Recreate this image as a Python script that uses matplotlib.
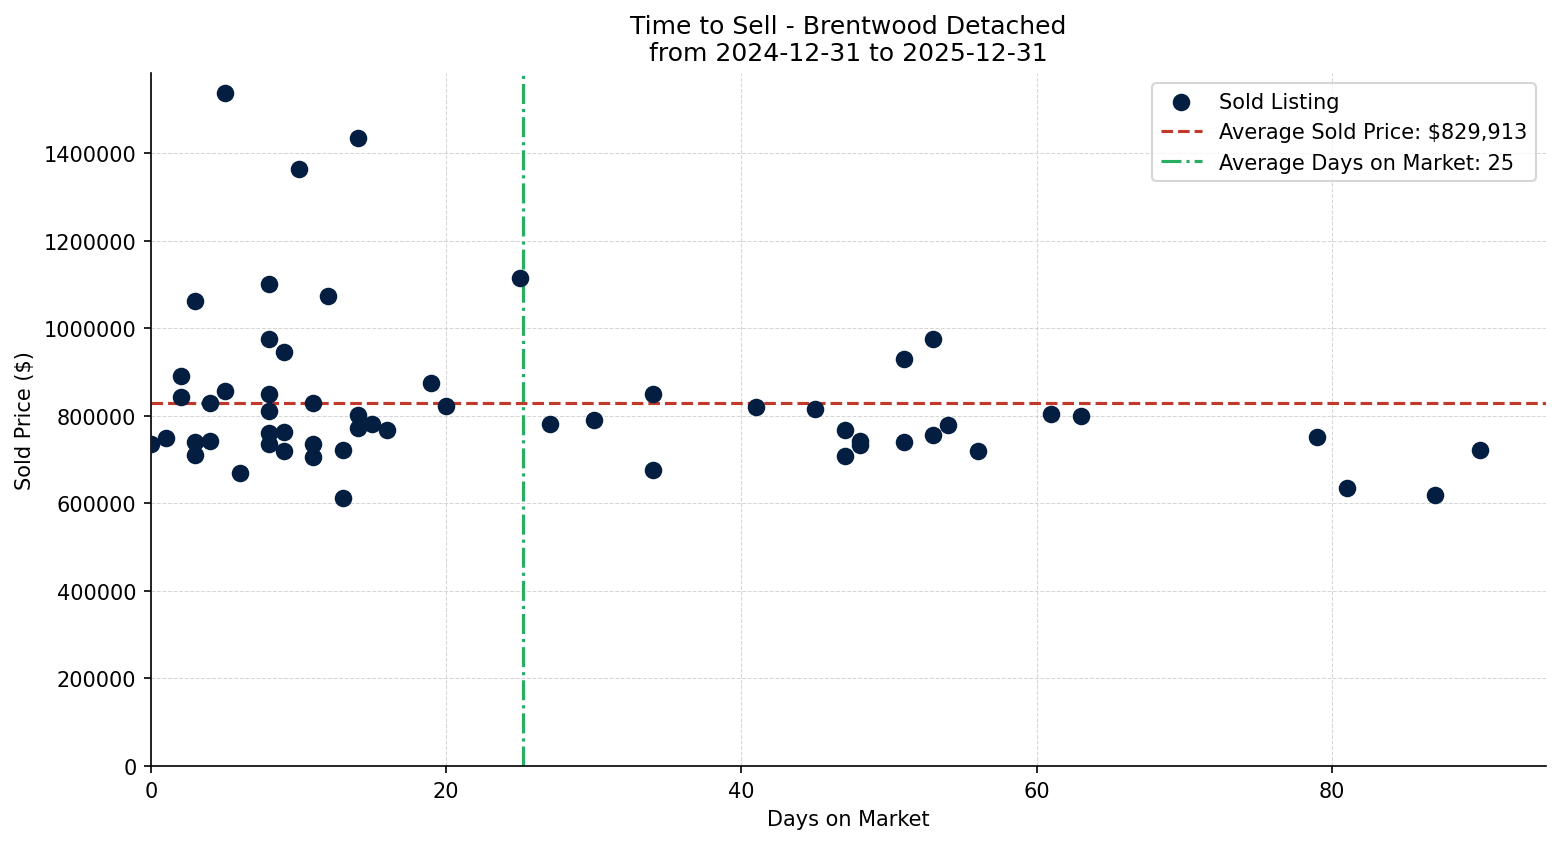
import matplotlib
matplotlib.use("Agg")
import matplotlib.pyplot as plt

days = [0, 1, 2, 2, 3, 3, 3, 4, 4, 5, 5, 6,
        8, 8, 8, 8, 8, 8, 9, 9, 9, 10, 11, 11, 11, 12, 13, 13,
        14, 14, 14, 15, 16, 19, 20, 25, 27, 30, 34, 34, 41, 45,
        47, 47, 48, 48, 51, 51, 53, 53, 54, 56, 61, 63, 79, 81, 87, 90]
prices = [735000, 749000, 890000, 843000, 1062000, 740000, 710000, 829000, 742000, 1537000, 856000, 669000,
          1101000, 975000, 850000, 811000, 761000, 735000, 945000, 763000, 719000, 1363000, 829000, 735000, 705000, 1073000, 722000, 612000,
          1434000, 801000, 773000, 781000, 767000, 875000, 822000, 1114000, 781000, 790000, 850000, 676000, 820000, 815000,
          767000, 708000, 742000, 734000, 929000, 740000, 975000, 756000, 779000, 719000, 804000, 799000, 751000, 635000, 619000, 722000]

avg_price = 829913
avg_days = 25.2

title = "Time to Sell - Brentwood Detached\nfrom 2024-12-31 to 2025-12-31"

fig, ax = plt.subplots(figsize=(10.4, 5.633), dpi=150)
ax.scatter(days, prices, s=55, color="#041e42", label="Sold Listing", zorder=3)
ax.axhline(avg_price, color="#c0392b", linestyle="--", linewidth=1.5,
           label=f"Average Sold Price: ${avg_price:,.0f}", zorder=2)
ax.axvline(avg_days, color="#27ae60", linestyle="-.", linewidth=1.5,
           label=f"Average Days on Market: {avg_days:.0f}", zorder=2)

ax.set_xlim(left=0, right=94.5)
ax.set_ylim(bottom=0)
ax.ticklabel_format(style="plain", axis="y", useOffset=False)
ax.set_title(title)
ax.set_xlabel("Days on Market")
ax.set_ylabel("Sold Price ($)")
ax.grid(True, linestyle="--", linewidth=0.5, color="#cccccc", alpha=0.8)
ax.set_axisbelow(True)
ax.spines["top"].set_visible(False)
ax.spines["right"].set_visible(False)
ax.legend(loc="upper right")
fig.subplots_adjust(left=151 / 1560, right=1546 / 1560, top=1 - 74 / 845, bottom=1 - 767 / 845)
fig.savefig("out.png", dpi=150)
